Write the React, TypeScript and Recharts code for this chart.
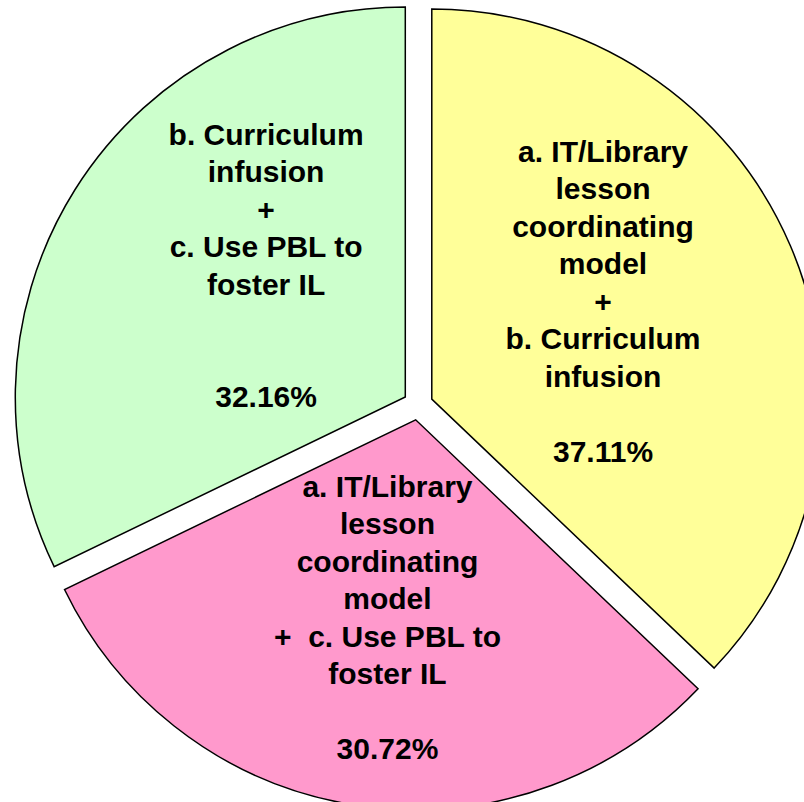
import { PieChart, Pie, Cell } from "recharts";

// slices, clockwise from 12 o'clock
const categories = [
  "a. IT/Library lesson coordinating model + b. Curriculum infusion",
  "a. IT/Library lesson coordinating model + c. Use PBL to foster IL",
  "b. Curriculum infusion + c. Use PBL to foster IL",
];
const shares = [37.11, 30.72, 32.16];
const labelLines = [
  ["a. IT/Library", "lesson", "coordinating", "model", "+", "b. Curriculum", "infusion", ""],
  ["a. IT/Library", "lesson", "coordinating", "model", "+  c. Use PBL to", "foster IL", ""],
  ["b. Curriculum", "infusion", "+", "c. Use PBL to", "foster IL", "", ""],
];
const colors = ["#FFFF99", "#FF99CC", "#CCFFCC"];

const data = categories.map((name, i) => ({ name, value: shares[i] }));

const W = 804;
const H = 802;
const CX = 418;
const CY = 405;
const R = 390;
const EXPLODE = 15;
const LINE_H = 37.5;
const RAD = Math.PI / 180;
// small hand nudges so the text blocks sit where the original put them
const labelNudge = [
  [-8, -21],
  [2, 5],
  [26, -28],
];

const total = shares.reduce((a, b) => a + b, 0);
const midAngles = shares.map((v, i) => {
  const before = shares.slice(0, i).reduce((a, b) => a + b, 0);
  return 90 - ((before + v / 2) / total) * 360;
});

const renderLabel = (k: number) => (props: any) => {
  if (props.index !== k) return <g />;
  const { cx, cy, midAngle, outerRadius } = props;
  const x = cx + 0.5 * outerRadius * Math.cos(-midAngle * RAD) + labelNudge[k][0];
  const y = cy + 0.5 * outerRadius * Math.sin(-midAngle * RAD) + labelNudge[k][1];
  const lines = [...labelLines[k], `${shares[k].toFixed(2)}%`];
  const top = y - ((lines.length - 1) * LINE_H) / 2 + 10.7;
  return (
    <g>
      {lines.map((t, i) => (
        <text
          key={i}
          x={x}
          y={top + i * LINE_H}
          textAnchor="middle"
          fontFamily="'Liberation Sans', Arial, sans-serif"
          fontWeight="bold"
          fontSize={30}
          fill="#000"
          style={{ whiteSpace: "pre" }}
        >
          {t}
        </text>
      ))}
    </g>
  );
};

export default function App() {
  return (
    <div style={{ position: "absolute", left: 0, top: 0, width: W, height: H, background: "#fff" }}>
      <PieChart width={W} height={H} margin={{ top: 0, right: 0, bottom: 0, left: 0 }}>
        {shares.map((_, k) => (
          <Pie
            key={k}
            data={data}
            dataKey="value"
            nameKey="name"
            cx={CX + EXPLODE * Math.cos(midAngles[k] * RAD)}
            cy={CY - EXPLODE * Math.sin(midAngles[k] * RAD)}
            outerRadius={R}
            startAngle={90}
            endAngle={-270}
            label={renderLabel(k)}
            labelLine={false}
            isAnimationActive={false}
          >
            {data.map((_, i) => (
              <Cell
                key={i}
                fill={i === k ? colors[i] : "none"}
                stroke={i === k ? "#000" : "none"}
                strokeWidth={1.5}
              />
            ))}
          </Pie>
        ))}
      </PieChart>
    </div>
  );
}
